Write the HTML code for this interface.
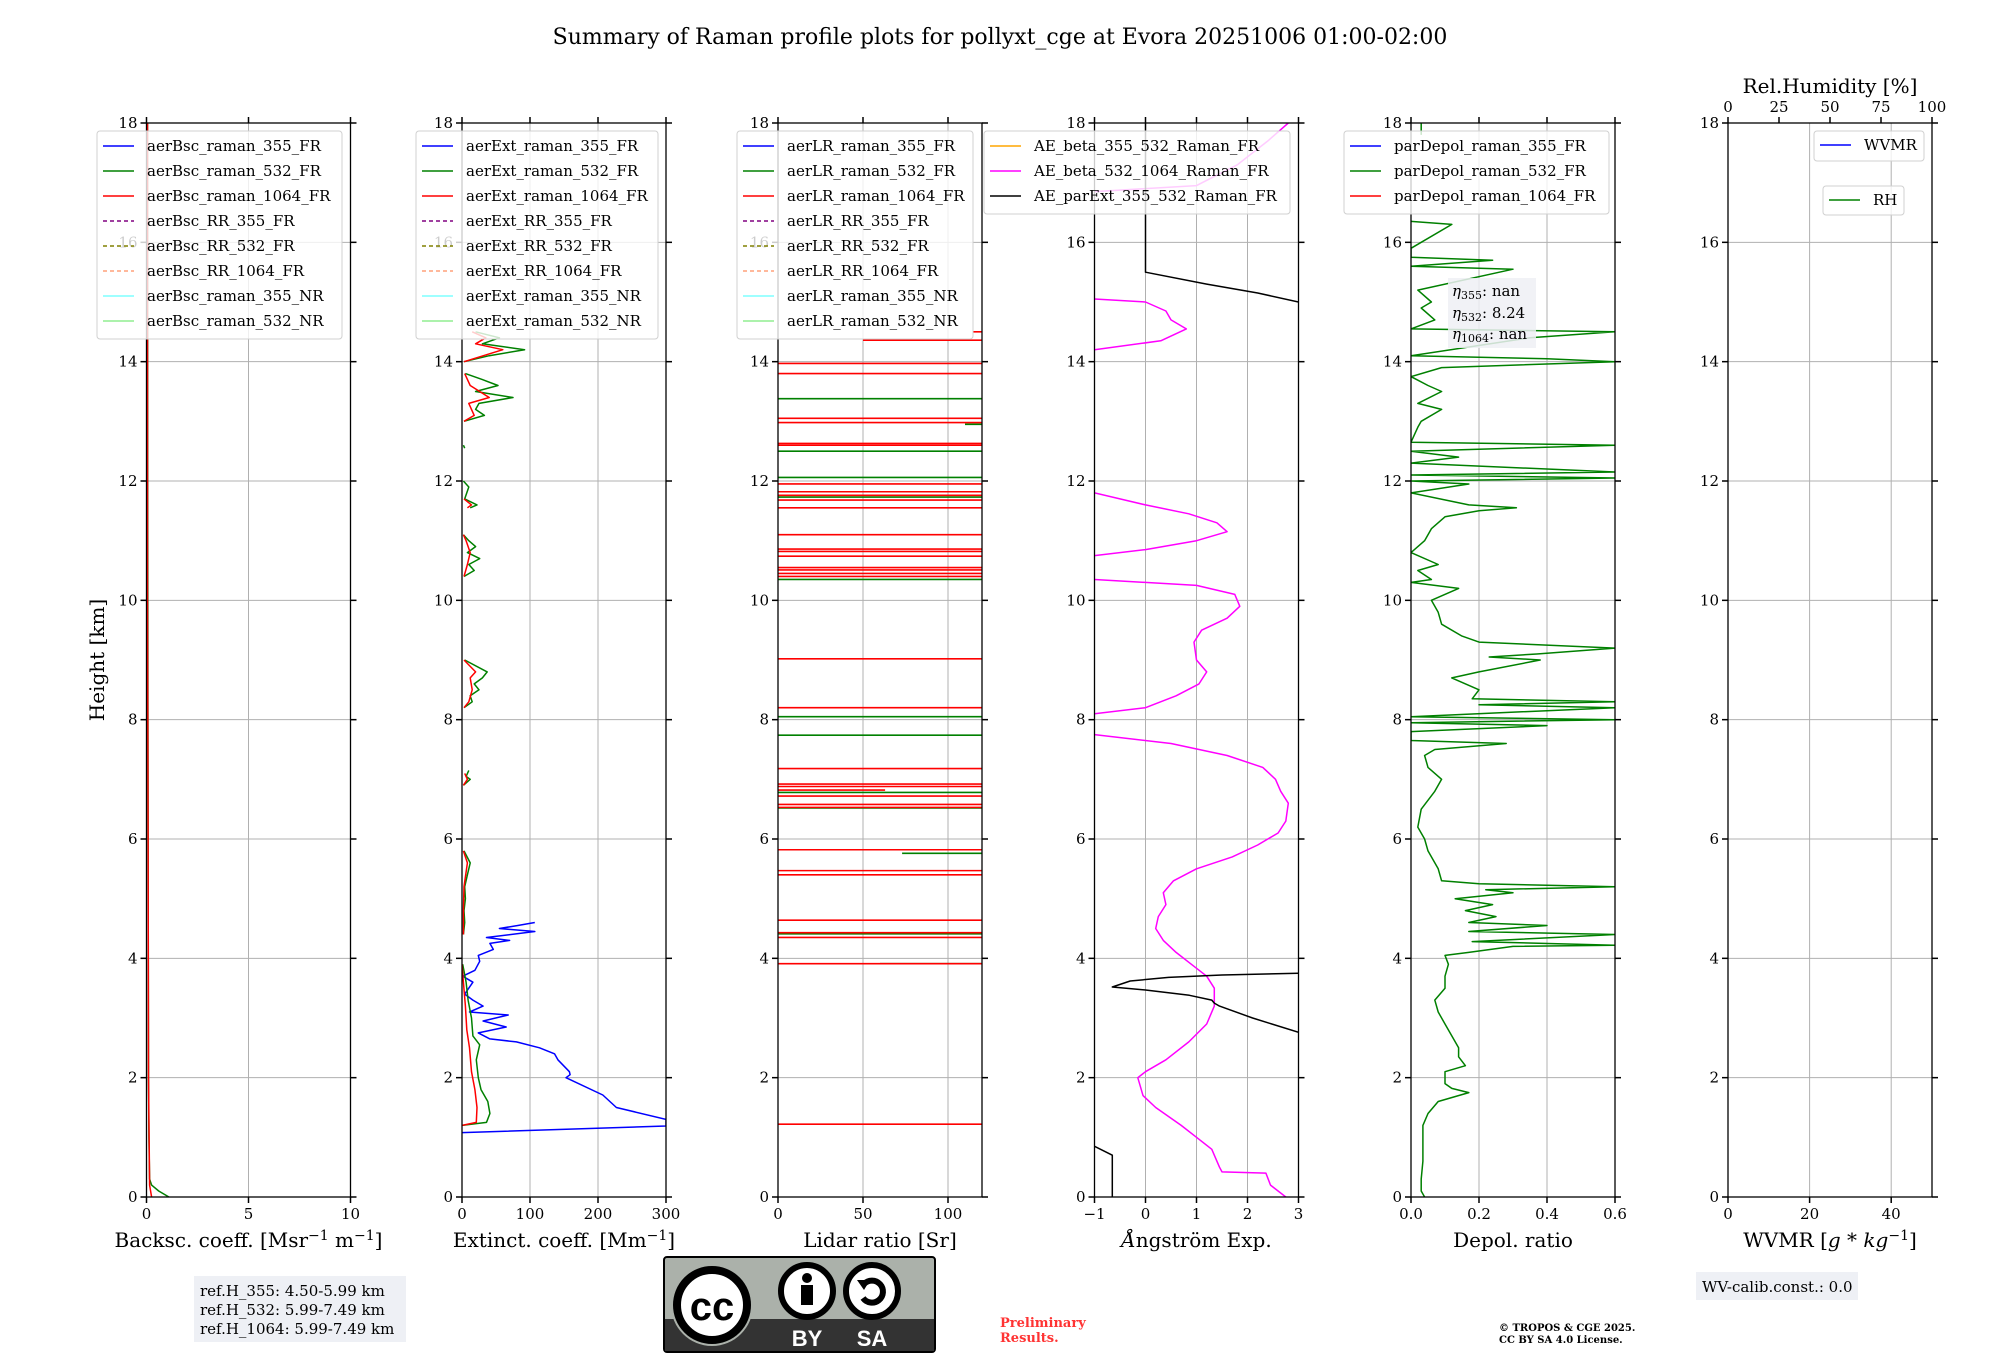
<!DOCTYPE html>
<html><head><meta charset="utf-8"><title>Raman profile summary</title>
<style>
html,body{margin:0;padding:0;background:#fff;}
svg{display:block;font-family:"DejaVu Serif","Liberation Serif",serif;}
</style></head>
<body>
<svg id="fig" width="2000" height="1360" viewBox="0 0 2000 1360" xmlns="http://www.w3.org/2000/svg">
<rect x="0" y="0" width="2000" height="1360" fill="#fff"/>
<text x="1000" y="44" font-size="22" text-anchor="middle">Summary of Raman profile plots for pollyxt_cge at Evora 20251006 01:00-02:00</text>
<text transform="translate(104,660) rotate(-90)" font-size="20" text-anchor="middle">Height [km]</text>
<g id="plots"></g>
<!-- bottom annotations -->
<rect x="194" y="1276" width="212" height="66" fill="#eef0f5"/>
<text font-size="15" x="200" y="1296">ref.H_355: 4.50-5.99 km<tspan x="200" dy="19">ref.H_532: 5.99-7.49 km</tspan><tspan x="200" dy="19">ref.H_1064: 5.99-7.49 km</tspan></text>
<g>
<rect x="664" y="1257" width="271" height="95" rx="3" fill="#abb1aa" stroke="#000" stroke-width="2"/>
<rect x="665" y="1319" width="269" height="32" fill="#333"/>
<circle cx="712" cy="1305" r="41" fill="#abb1aa"/>
<circle cx="712" cy="1305" r="35" fill="#fff" stroke="#000" stroke-width="8"/>
<text x="712" y="1320" font-family="Liberation Sans, sans-serif" font-weight="bold" font-size="40" text-anchor="middle">cc</text>
<circle cx="807" cy="1291" r="26" fill="#fff" stroke="#000" stroke-width="6"/>
<circle cx="807" cy="1278" r="5" fill="#000"/>
<rect x="801" y="1285" width="12" height="20" fill="#000"/>
<circle cx="872" cy="1291" r="26" fill="#fff" stroke="#000" stroke-width="6"/>
<path d="M864 1284 A11 11 0 1 1 863 1298" fill="none" stroke="#000" stroke-width="6"/>
<path d="M857 1280 L870 1280 L864 1290 Z" fill="#000"/>
<text x="807" y="1346" fill="#fff" font-family="Liberation Sans, sans-serif" font-weight="bold" font-size="22" text-anchor="middle">BY</text>
<text x="872" y="1346" fill="#fff" font-family="Liberation Sans, sans-serif" font-weight="bold" font-size="22" text-anchor="middle">SA</text>
</g>
<text x="1000" y="1327" font-size="13" font-weight="bold" fill="#ff3333">Preliminary<tspan x="1000" dy="15">Results.</tspan></text>
<text x="1499" y="1331" font-size="10" font-weight="bold">© TROPOS &amp; CGE 2025.<tspan x="1499" dy="12">CC BY SA 4.0 License.</tspan></text>
<rect x="1696" y="1272" width="162" height="28" fill="#eef0f5"/>
<text x="1702" y="1292" font-size="15">WV-calib.const.: 0.0</text>
</svg>
<script>
// ---------- data ----------
const heightTicks = [0,2,4,6,8,10,12,14,16,18];
// backscatter
const bsc532H = [0,0.1,0.2,0.3,1,2,6,12,18];
const bsc532V = [1.1,0.6,0.25,0.15,0.12,0.1,0.08,0.06,0.05];
const bsc1064H = [0,0.2,2,6,10,14,18];
const bsc1064V = [0.25,0.15,0.1,0.08,0.05,0.05,0.05];
// extinction
const ext355H = [1.08,1.19,1.3,1.5,1.71,2.0,2.05,2.1,2.3,2.4,2.5,2.6,2.65,2.75,2.85,2.95,3.05,3.1,3.2,3.3,3.4,3.6,3.7,3.8,3.95,4.05,4.15,4.25,4.3,4.35,4.45,4.5,4.55,4.6];
const ext355V = [0,300,300,227,207,153,159,158,141,136,114,80,41,24,65,31,68,11,31,16,4,16,1,19,26,24,46,41,70,36,107,55,82,107];
const ext532H = [1.2,1.25,1.4,1.6,1.8,2.0,2.3,2.55,2.7,3.0,3.3,3.6,3.9,null,4.4,4.6,4.8,5.0,5.2,5.4,5.6,5.8,null,6.9,7.0,7.05,7.15,null,8.2,8.3,8.4,8.5,8.6,8.7,8.8,9.0,null,10.4,10.5,10.6,10.7,10.8,10.9,11.0,11.1,null,11.55,11.6,11.7,11.9,12.0,null,12.55,12.6,null,13.0,13.1,13.2,13.3,13.4,13.5,13.6,13.7,13.8,null,14.0,14.1,14.2,14.3,14.4,14.5];
const ext532V = [0,36,41,38,28,24,21,26,16,14,9,6,1,null,2,4,3,5,4,8,12,3,null,2,12,6,10,null,3,15,12,25,18,30,37,4,null,3,18,10,26,8,20,10,2,null,12,22,4,10,2,null,4,2,null,3,33,20,25,75,20,53,30,5,null,3,40,92,30,55,20];
const ext1064H = [1.2,1.25,1.5,1.8,2.1,2.5,2.8,3.2,3.6,3.9,null,4.4,4.8,5.2,5.6,5.8,null,6.9,7.0,7.1,null,8.2,8.3,8.5,8.7,8.8,9.0,null,10.4,10.6,10.8,11.0,11.1,null,11.55,11.6,11.7,null,13.0,13.1,13.3,13.4,13.6,13.8,null,14.0,14.2,14.3,14.4,14.5];
const ext1064V = [0,21,22,19,14,11,7,5,2,0,null,2,2,3,8,2,null,2,8,4,null,3,10,15,12,20,3,null,3,8,12,6,2,null,8,14,3,null,3,18,10,40,12,4,null,3,60,20,35,15];
// lidar ratio (spikes: start value -> end value)
const lrRedH = [1.22,3.91,4.35,4.43,4.64,5.4,5.47,5.82,6.53,6.58,6.72,6.82,6.88,6.92,7.18,8.2,9.02,10.4,10.45,10.51,10.55,10.74,10.82,10.86,11.1,11.55,11.68,11.76,11.82,11.95,12.6,12.63,12.98,13.05,13.8,13.97,14.36,14.5];
const lrRedStart = [0,0,0,0,0,0,0,0,0,0,0,0,0,0,0,0,0,0,0,0,0,0,0,0,0,0,0,0,0,0,0,0,0,0,0,0,50,115];
const lrRedEnd = [999,999,999,999,999,999,999,999,999,999,999,63,999,999,999,999,999,999,999,999,999,999,999,999,999,999,999,999,999,999,999,999,999,999,999,999,999,999];
const lrGreenH = [3.91,4.41,5.76,6.52,6.78,7.74,8.05,10.35,11.73,12.06,12.5,12.95,13.38];
const lrGreenStart = [60,0,73,0,0,0,0,0,0,0,0,110,0];
const lrGreenEnd = [999,999,999,999,999,999,999,999,999,999,999,999,999];
// Angstrom exponents
const aeBetaH = [0,0.2,0.4,0.42,0.5,0.6,0.8,1.0,1.2,1.5,1.7,1.85,2.0,2.1,2.3,2.6,2.9,3.2,3.5,3.7,3.9,4.1,4.3,4.5,4.7,4.9,5.1,5.3,5.5,5.7,5.9,6.1,6.3,6.6,6.8,7.0,7.2,7.4,7.6,7.75,null,8.1,8.2,8.4,8.6,8.8,9.0,9.3,9.5,9.7,9.9,10.1,10.25,10.35,null,10.75,10.85,11.0,11.15,11.3,11.45,11.6,11.8,null,14.2,14.35,14.55,14.7,14.85,15.0,15.05,null,16.85,16.95,17.3,17.7,18];
const aeBetaV = [2.75,2.45,2.36,1.5,1.45,1.4,1.3,1.0,0.7,0.2,-0.05,-0.1,-0.15,0.0,0.4,0.85,1.2,1.35,1.35,1.2,0.9,0.6,0.35,0.2,0.25,0.4,0.35,0.55,1.0,1.7,2.2,2.6,2.75,2.8,2.65,2.55,2.3,1.6,0.5,-1,null,-1,0,0.6,1.05,1.2,1.0,0.95,1.1,1.6,1.85,1.75,1.0,-1,null,-1,0,1.0,1.6,1.4,0.85,0.0,-1,null,-1,0.3,0.8,0.5,0.4,0.0,-1,null,-1,1.0,1.8,2.4,2.8];
const aeExtH = [0,0.7,0.85,null,2.76,3.0,3.2,3.25,3.3,3.38,3.47,3.52,3.62,3.68,3.72,3.75,null,15.0,15.15,15.3,15.5,18];
const aeExtV = [-0.65,-0.65,-1,null,3.0,2.1,1.45,1.35,1.3,0.86,0,-0.65,-0.3,0.45,1.5,3.0,null,3.0,2.2,1.2,0,0];
// depolarization 532
const dep532H = [0,0.1,0.3,0.6,1.2,1.4,1.6,1.75,1.82,1.9,2.1,2.2,2.35,2.5,2.7,2.9,3.1,3.3,3.5,3.7,3.9,4.05,4.1,4.2,4.22,4.28,4.4,4.45,4.55,4.6,4.7,4.8,4.9,5.0,5.1,5.15,5.2,5.25,5.3,5.5,5.8,6.0,6.2,6.5,6.8,7.0,7.2,7.4,7.5,7.6,7.65,7.8,7.9,7.95,8.0,8.05,8.2,8.25,8.3,8.35,8.5,8.7,8.8,9.0,9.05,9.1,9.2,9.3,9.4,9.6,9.8,10.0,10.2,10.3,10.35,10.5,10.6,10.8,11.0,11.2,11.4,11.5,11.55,11.6,11.8,11.95,12.0,12.05,12.1,12.15,12.3,12.4,12.5,12.6,12.65,12.9,13.0,13.2,13.3,13.5,13.6,13.75,13.9,14.0,14.05,14.1,14.4,14.5,14.55,14.7,14.9,15.0,15.2,15.55,15.6,15.7,15.75,15.9,16.3,16.35,null,17.8,18];
const dep532V = [0.04,0.03,0.03,0.035,0.035,0.05,0.08,0.17,0.12,0.1,0.1,0.16,0.14,0.14,0.12,0.1,0.08,0.07,0.1,0.1,0.11,0.1,0.17,0.3,0.6,0.18,0.6,0.17,0.4,0.17,0.25,0.16,0.24,0.13,0.3,0.22,0.6,0.2,0.09,0.08,0.05,0.04,0.02,0.03,0.07,0.09,0.05,0.04,0.07,0.28,0.0,0.0,0.4,0.0,0.6,0.0,0.6,0.2,0.6,0.18,0.2,0.12,0.2,0.38,0.23,0.37,0.6,0.2,0.15,0.09,0.08,0.06,0.14,0.0,0.06,0.02,0.08,0.0,0.04,0.06,0.1,0.2,0.31,0.17,0.0,0.17,0.0,0.6,0.0,0.6,0.0,0.14,0.0,0.6,0.0,0.02,0.03,0.09,0.02,0.09,0.05,0.0,0.09,0.6,0.4,0.0,0.35,0.6,0.0,0.07,0.03,0.06,0.02,0.3,0.0,0.24,0.0,0.0,0.12,0.0,null,0.03,0.03];
// axes
const xTicks1 = [0,5,10], xTicks2 = [0,100,200,300], xTicks3 = [0,50,100];
const xTicks4 = [-1,0,1,2,3], xTicks5 = [0.0,0.2,0.4,0.6], xTicks6 = [0,20,40], rhTicks = [0,25,50,75,100];
const xTickLabels5 = ['0.0','0.2','0.4','0.6'];
const xTickLabels4 = ['\u22121','0','1','2','3'];

// ---------- layout ----------
const NS = 'http://www.w3.org/2000/svg';
const TOP = 123, BOT = 1197, W = 204;
const LEFTS = [146.5, 462, 778, 1094.5, 1411, 1728];
const root = document.getElementById('plots');
function el(tag, attrs, parent){ const e = document.createElementNS(NS, tag); for (const k in attrs) e.setAttribute(k, attrs[k]); (parent||root).appendChild(e); return e; }
function yScale(h){ return BOT - (h/18)*(BOT-TOP); }
function mkX(i, lo, hi){ return v => LEFTS[i] + (v-lo)/(hi-lo)*W; }

function axes(i, xs, ticks, labels, xlabel, topTicks){
  const g = el('g', {});
  
  
  const L = LEFTS[i], R = L+W;
  ticks.forEach((t,k)=>{
    el('line',{x1:xs(t),x2:xs(t),y1:TOP,y2:BOT,stroke:'#b0b0b0','stroke-width':1},g);
    el('line',{x1:xs(t),x2:xs(t),y1:BOT,y2:BOT+6,stroke:'#000','stroke-width':1.5},g);
    if (topTicks) el('line',{x1:xs(t),x2:xs(t),y1:TOP,y2:TOP-6,stroke:'#000','stroke-width':1.5},g);
    const tx = el('text',{x:xs(t),y:BOT+22,'font-size':15,'text-anchor':'middle'},g);
    tx.textContent = labels ? labels[k] : String(t);
  });
  heightTicks.forEach(h=>{
    el('line',{x1:L,x2:R,y1:yScale(h),y2:yScale(h),stroke:'#b0b0b0','stroke-width':1},g);
    el('line',{x1:L-6,x2:L,y1:yScale(h),y2:yScale(h),stroke:'#000','stroke-width':1.5},g);
    el('line',{x1:R,x2:R+6,y1:yScale(h),y2:yScale(h),stroke:'#000','stroke-width':1.5},g);
    const tx = el('text',{x:L-9,y:yScale(h)+5,'font-size':15,'text-anchor':'end'},g);
    tx.textContent = String(h);
  });
  const xl = el('text',{x:L+W/2,y:1247,'font-size':20,'text-anchor':'middle'},g);
  
  
  xl.innerHTML = xlabel;
  const cp = el('clipPath',{id:'clip'+i},g);
  el('rect',{x:L,y:TOP,width:W,height:BOT-TOP},cp);
  const data = el('g',{'clip-path':'url(#clip'+i+')'},g);
  return {g, data, L, R};
}
function frame(ax){ el('rect',{x:ax.L,y:TOP,width:W,height:BOT-TOP,fill:'none',stroke:'#000','stroke-width':1.3},ax.g); }
function profile(ax, xs, H, V, color, name){
  let d = '', pen = false;
  for (let k=0;k<H.length;k++){
    if (H[k]===null || V[k]===null){ pen=false; continue; }
    d += (pen?'L':'M') + xs(V[k]).toFixed(1) + ' ' + yScale(H[k]).toFixed(1) + ' ';
    pen = true;
  }
  const p = el('path',{d:d,fill:'none',stroke:color,'stroke-width':1.5,'stroke-linejoin':'round'},ax.data);
  
  
}
function spikes(ax, xs, H, S, E, color, name){
  H.forEach((h,k)=>{
    const ln = el('line',{x1:xs(S[k]),x2:xs(Math.min(E[k],200)),y1:yScale(h),y2:yScale(h),stroke:color,'stroke-width':1.6},ax.data);
    
    
  });
}
function legend(ax, x, y, w, items, name){
  const g = el('g',{},ax.g);
  
  
  el('rect',{x:x,y:y,width:w,height:items.length*25+8,rx:3,fill:'rgba(255,255,255,0.8)',stroke:'#d0d0d0'},g);
  items.forEach((it,k)=>{
    const cy = y+15+k*25;
    el('line',{x1:x+6,x2:x+37,y1:cy,y2:cy,stroke:it[1],'stroke-width':1.5,'stroke-dasharray':it[2]?'4 3':'none'},g);
    const t = el('text',{x:x+50,y:cy+5,'font-size':15},g);
    t.textContent = it[0];
  });
}
const legCols = [['raman_355_FR','#0000ff'],['raman_532_FR','#008000'],['raman_1064_FR','#ff0000'],['RR_355_FR','#800080',1],['RR_532_FR','#808000',1],['RR_1064_FR','#ffa07a',1],['raman_355_NR','#7fffff'],['raman_532_NR','#90ee90']];
function legItems(prefix){ return legCols.map(c=>[prefix+'_'+c[0], c[1], c[2]]); }

// panel 1
let xs = mkX(0,0,10);
let ax = axes(0, xs, xTicks1, null, 'Backsc. coeff. [Msr<tspan dy="-7" font-size="14">\u22121</tspan><tspan dy="7"> m</tspan><tspan dy="-7" font-size="14">\u22121</tspan><tspan dy="7">]</tspan>', true);
profile(ax, xs, bsc532H, bsc532V, '#008000', 'bsc-532-line');
profile(ax, xs, bsc1064H, bsc1064V, '#ff0000', 'bsc-1064-line');
frame(ax);
legend(ax, 97, 131, 245, legItems('aerBsc'), 'bsc-legend');

// panel 2
xs = mkX(1,0,300);
ax = axes(1, xs, xTicks2, null, 'Extinct. coeff. [Mm<tspan dy="-7" font-size="14">\u22121</tspan><tspan dy="7">]</tspan>', true);
profile(ax, xs, ext355H, ext355V, '#0000ff', 'ext-355-line');
profile(ax, xs, ext532H, ext532V, '#008000', 'ext-532-line');
profile(ax, xs, ext1064H, ext1064V, '#ff0000', 'ext-1064-line');
frame(ax);
legend(ax, 416, 131, 242, legItems('aerExt'), 'ext-legend');

// panel 3
xs = mkX(2,0,120);
ax = axes(2, xs, xTicks3, null, 'Lidar ratio [Sr]', true);
spikes(ax, xs, lrGreenH, lrGreenStart, lrGreenEnd, '#008000', 'lr-532-spike');
spikes(ax, xs, lrRedH, lrRedStart, lrRedEnd, '#ff0000', 'lr-1064-spike');
frame(ax);
legend(ax, 737, 131, 236, legItems('aerLR'), 'lr-legend');

// panel 4
xs = mkX(3,-1,3);
ax = axes(3, xs, xTicks4, xTickLabels4, '<tspan font-style="italic">Å</tspan>ngström Exp.', true);
profile(ax, xs, aeBetaH, aeBetaV, '#ff00ff', 'ae-beta-532-1064-line');
profile(ax, xs, aeExtH, aeExtV, '#000000', 'ae-parext-355-532-line');
frame(ax);
legend(ax, 984, 131, 306, [['AE_beta_355_532_Raman_FR','#ffa500'],['AE_beta_532_1064_Raman_FR','#ff00ff'],['AE_parExt_355_532_Raman_FR','#000000']], 'ae-legend');

// panel 5
xs = mkX(4,0,0.6);
ax = axes(4, xs, xTicks5, xTickLabels5, 'Depol. ratio', true);
profile(ax, xs, dep532H, dep532V, '#008000', 'depol-532-line');
frame(ax);
legend(ax, 1344, 131, 265, [['parDepol_raman_355_FR','#0000ff'],['parDepol_raman_532_FR','#008000'],['parDepol_raman_1064_FR','#ff0000']], 'depol-legend');
(function(){
  const g = el('g',{},ax.g);
  
  
  el('rect',{x:1448,y:278,width:88,height:70,fill:'rgba(238,240,245,0.85)'},g);
  const t = el('text',{x:1452,y:296,'font-size':15},g);
  t.innerHTML = '<tspan font-style="italic">η</tspan><tspan font-size="11" dy="3">355</tspan><tspan dy="-3">: nan</tspan>' +
    '<tspan x="1452" dy="22" font-style="italic">η</tspan><tspan font-size="11" dy="3">532</tspan><tspan dy="-3">: 8.24</tspan>' +
    '<tspan x="1452" dy="21" font-style="italic">η</tspan><tspan font-size="11" dy="3">1064</tspan><tspan dy="-3">: nan</tspan>';
})();

// panel 6
xs = mkX(5,0,50);
ax = axes(5, xs, xTicks6, null, 'WVMR [<tspan font-style="italic">g</tspan> * <tspan font-style="italic">kg</tspan><tspan dy="-7" font-size="14">\u22121</tspan><tspan dy="7">]</tspan>', false);
const rh = mkX(5,0,100);
rhTicks.forEach(t=>{
  el('line',{x1:rh(t),x2:rh(t),y1:TOP,y2:TOP-6,stroke:'#000','stroke-width':1.5},ax.g);
  const tx = el('text',{x:rh(t),y:TOP-11,'font-size':15,'text-anchor':'middle'},ax.g);
  tx.textContent = String(t);
});
const rht = el('text',{x:LEFTS[5]+W/2,y:93,'font-size':20,'text-anchor':'middle'},ax.g);


rht.textContent = 'Rel.Humidity [%]';
frame(ax);
(function(){
  const g = el('g',{},ax.g);
  
  
  el('rect',{x:1814,y:131,width:110,height:30,rx:3,fill:'rgba(255,255,255,0.8)',stroke:'#d0d0d0'},g);
  el('line',{x1:1820,x2:1851,y1:145,y2:145,stroke:'#0000ff','stroke-width':1.5},g);
  const t1 = el('text',{x:1864,y:150,'font-size':15},g); t1.textContent = 'WVMR';
  const g2 = el('g',{},ax.g);
  
  
  el('rect',{x:1823,y:186,width:81,height:29,rx:3,fill:'rgba(255,255,255,0.8)',stroke:'#d0d0d0'},g2);
  el('line',{x1:1829,x2:1860,y1:200,y2:200,stroke:'#008000','stroke-width':1.5},g2);
  const t2 = el('text',{x:1873,y:205,'font-size':15},g2); t2.textContent = 'RH';
})();
</script>
</body></html>
